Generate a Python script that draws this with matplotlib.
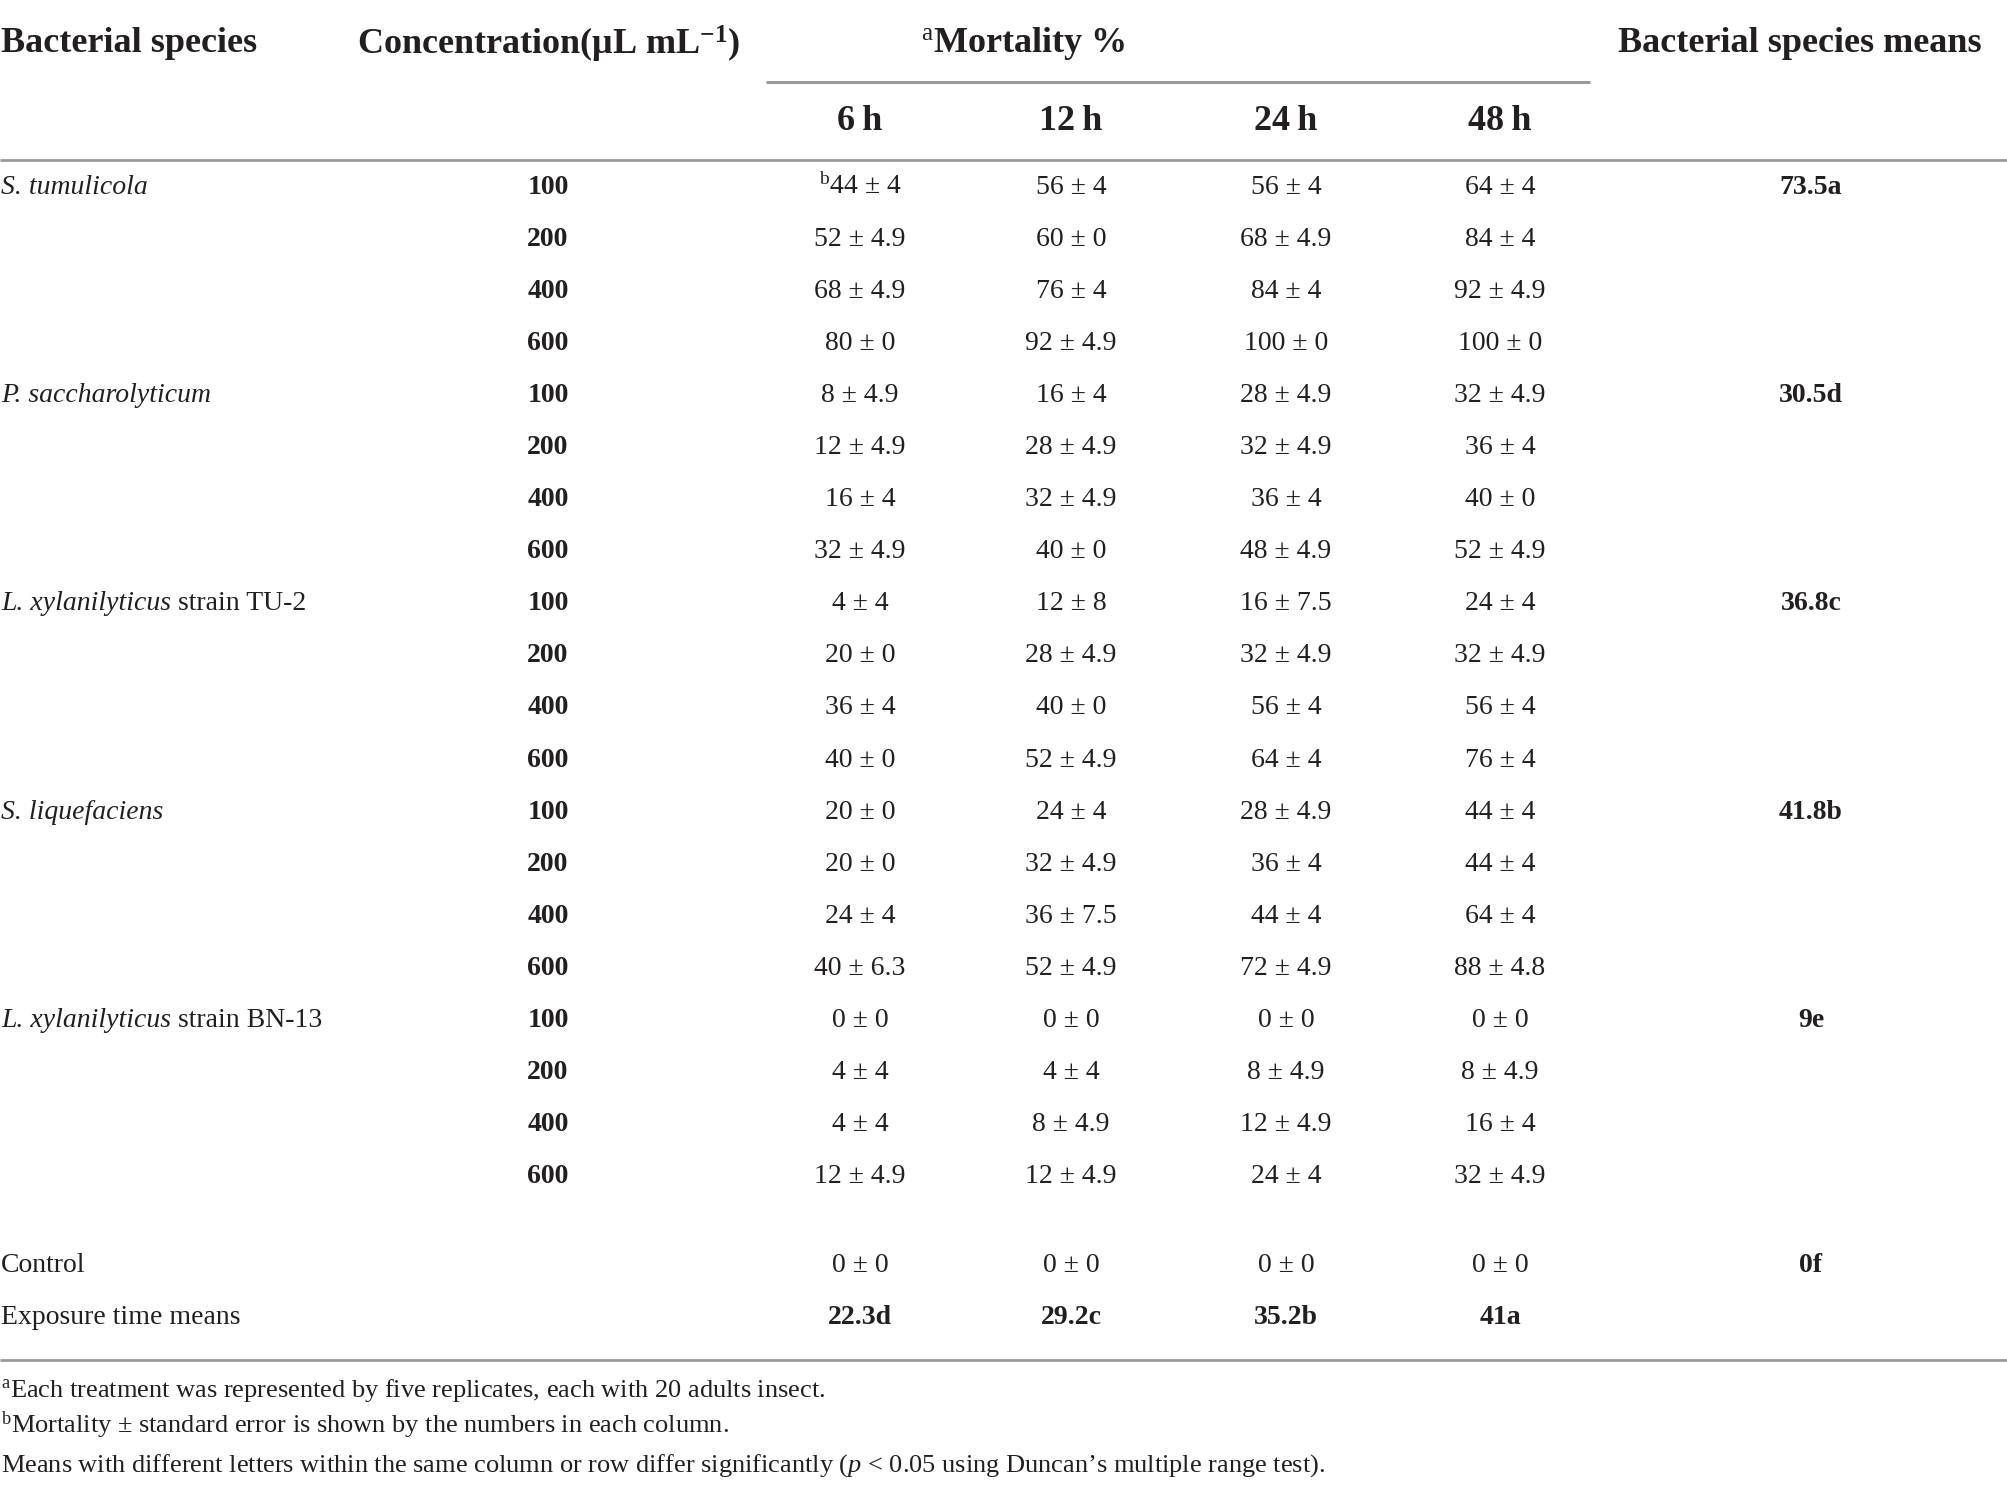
import matplotlib
matplotlib.use("Agg")
import matplotlib.pyplot as plt

plt.rcParams['font.family'] = ['Liberation Serif', 'DejaVu Serif']
plt.rcParams['mathtext.fontset'] = 'custom'
plt.rcParams['mathtext.rm'] = 'Liberation Serif'
plt.rcParams['mathtext.it'] = 'Liberation Serif:italic'
plt.rcParams['mathtext.bf'] = 'Liberation Serif:bold'

# data
species_italic = ["S. tumulicola", "P. saccharolyticum", "L. xylanilyticus",
                  "S. liquefaciens", "L. xylanilyticus"]
species_rest = ["", "", " strain TU-2", "", " strain BN-13"]
concentrations = [100, 200, 400, 600]
hours = ["6\u2009h", "12\u2009h", "24\u2009h", "48\u2009h"]

mort_6h = ["44 ± 4", "52 ± 4.9", "68 ± 4.9", "80 ± 0",
           "8 ± 4.9", "12 ± 4.9", "16 ± 4", "32 ± 4.9",
           "4 ± 4", "20 ± 0", "36 ± 4", "40 ± 0",
           "20 ± 0", "20 ± 0", "24 ± 4", "40 ± 6.3",
           "0 ± 0", "4 ± 4", "4 ± 4", "12 ± 4.9"]
mort_12h = ["56 ± 4", "60 ± 0", "76 ± 4", "92 ± 4.9",
            "16 ± 4", "28 ± 4.9", "32 ± 4.9", "40 ± 0",
            "12 ± 8", "28 ± 4.9", "40 ± 0", "52 ± 4.9",
            "24 ± 4", "32 ± 4.9", "36 ± 7.5", "52 ± 4.9",
            "0 ± 0", "4 ± 4", "8 ± 4.9", "12 ± 4.9"]
mort_24h = ["56 ± 4", "68 ± 4.9", "84 ± 4", "100 ± 0",
            "28 ± 4.9", "32 ± 4.9", "36 ± 4", "48 ± 4.9",
            "16 ± 7.5", "32 ± 4.9", "56 ± 4", "64 ± 4",
            "28 ± 4.9", "36 ± 4", "44 ± 4", "72 ± 4.9",
            "0 ± 0", "8 ± 4.9", "12 ± 4.9", "24 ± 4"]
mort_48h = ["64 ± 4", "84 ± 4", "92 ± 4.9", "100 ± 0",
            "32 ± 4.9", "36 ± 4", "40 ± 0", "52 ± 4.9",
            "24 ± 4", "32 ± 4.9", "56 ± 4", "76 ± 4",
            "44 ± 4", "44 ± 4", "64 ± 4", "88 ± 4.8",
            "0 ± 0", "8 ± 4.9", "16 ± 4", "32 ± 4.9"]
species_means = ["73.5a", "30.5d", "36.8c", "41.8b", "9e"]
control = ["0 ± 0", "0 ± 0", "0 ± 0", "0 ± 0"]
control_mean = "0f"
time_means = ["22.3d", "29.2c", "35.2b", "41a"]
footnotes = [
    r"$^{\mathrm{a}}$Each treatment was represented by five replicates, each with 20 adults insect.",
    r"$^{\mathrm{b}}$Mortality ± standard error is shown by the numbers in each column.",
    r"Means with different letters within the same column or row differ significantly ($\mathit{p}$ < 0.05 using Duncan’s multiple range test).",
]

W, H = 2008, 1488
fig = plt.figure(figsize=(W / 100, H / 100), dpi=100)
ax = fig.add_axes([0, 0, 1, 1])
ax.set_xlim(0, W)
ax.set_ylim(H, 0)
ax.axis('off')

ink = '#231f20'
rule = '#9a9a9a'
fs_head = 26
fs_body = 20
fs_note = 19

x_species = 1
x_conc = 548
x_time = [860, 1071, 1286, 1500]
x_mean = 1811

# header
ax.text(x_species, 44, "Bacterial species", fontsize=fs_head, fontweight='bold',
        color=ink, va='center', ha='left')
ax.text(357, 44, r"Concentration(μL mL$^{\mathbf{-1}}$)", fontsize=fs_head,
        fontweight='bold', color=ink, va='center', ha='left')
ax.text(1023, 44, r"$^{\mathrm{a}}$Mortality %", fontsize=fs_head, fontweight='bold',
        color=ink, va='center', ha='center')
ax.text(1800, 44, "Bacterial species means", fontsize=fs_head, fontweight='bold',
        color=ink, va='center', ha='center')
ax.plot([766, 1590], [82, 82], color=rule, lw=2.2, solid_capstyle='butt')
for x, h in zip(x_time, hours):
    ax.text(x, 121, h, fontsize=fs_head, fontweight='bold', color=ink,
            va='center', ha='center')
ax.plot([0, W], [160, 160], color=rule, lw=2.0, solid_capstyle='butt')

# body
y0, dy = 187, 52.1
cols = [mort_6h, mort_12h, mort_24h, mort_48h]
for i in range(len(mort_6h)):
    y = y0 + i * dy
    g, k = divmod(i, len(concentrations))
    if k == 0:
        t = ax.text(x_species, y, species_italic[g], fontsize=fs_body, style='italic',
                    color=ink, va='center', ha='left')
        if species_rest[g]:
            ax.annotate(species_rest[g], xycoords=t, xy=(1, 0.5), va='center',
                        ha='left', fontsize=fs_body, color=ink)
        ax.text(x_mean, y, species_means[g], fontsize=fs_body, fontweight='bold',
                color=ink, va='center', ha='center')
    ax.text(x_conc, y, str(concentrations[k]), fontsize=fs_body, fontweight='bold',
            color=ink, va='center', ha='center')
    for x, col in zip(x_time, cols):
        label = col[i]
        if i == 0 and x == x_time[0]:
            label = r"$^{\mathrm{b}}$" + label
        ax.text(x, y, label, fontsize=fs_body, color=ink, va='center', ha='center')

ax.text(x_species, 1266, "Control", fontsize=fs_body, color=ink, va='center', ha='left')
for x, v in zip(x_time, control):
    ax.text(x, 1266, v, fontsize=fs_body, color=ink, va='center', ha='center')
ax.text(x_mean, 1266, control_mean, fontsize=fs_body, fontweight='bold', color=ink,
        va='center', ha='center')
ax.text(x_species, 1318, "Exposure time means", fontsize=fs_body, color=ink,
        va='center', ha='left')
for x, v in zip(x_time, time_means):
    ax.text(x, 1318, v, fontsize=fs_body, fontweight='bold', color=ink,
            va='center', ha='center')
ax.plot([0, W], [1360, 1360], color=rule, lw=2.0, solid_capstyle='butt')

for y, note in zip([1390, 1425, 1466], footnotes):
    ax.text(x_species, y, note, fontsize=fs_note, color=ink, va='center', ha='left')

fig.savefig("out.png", dpi=100)
